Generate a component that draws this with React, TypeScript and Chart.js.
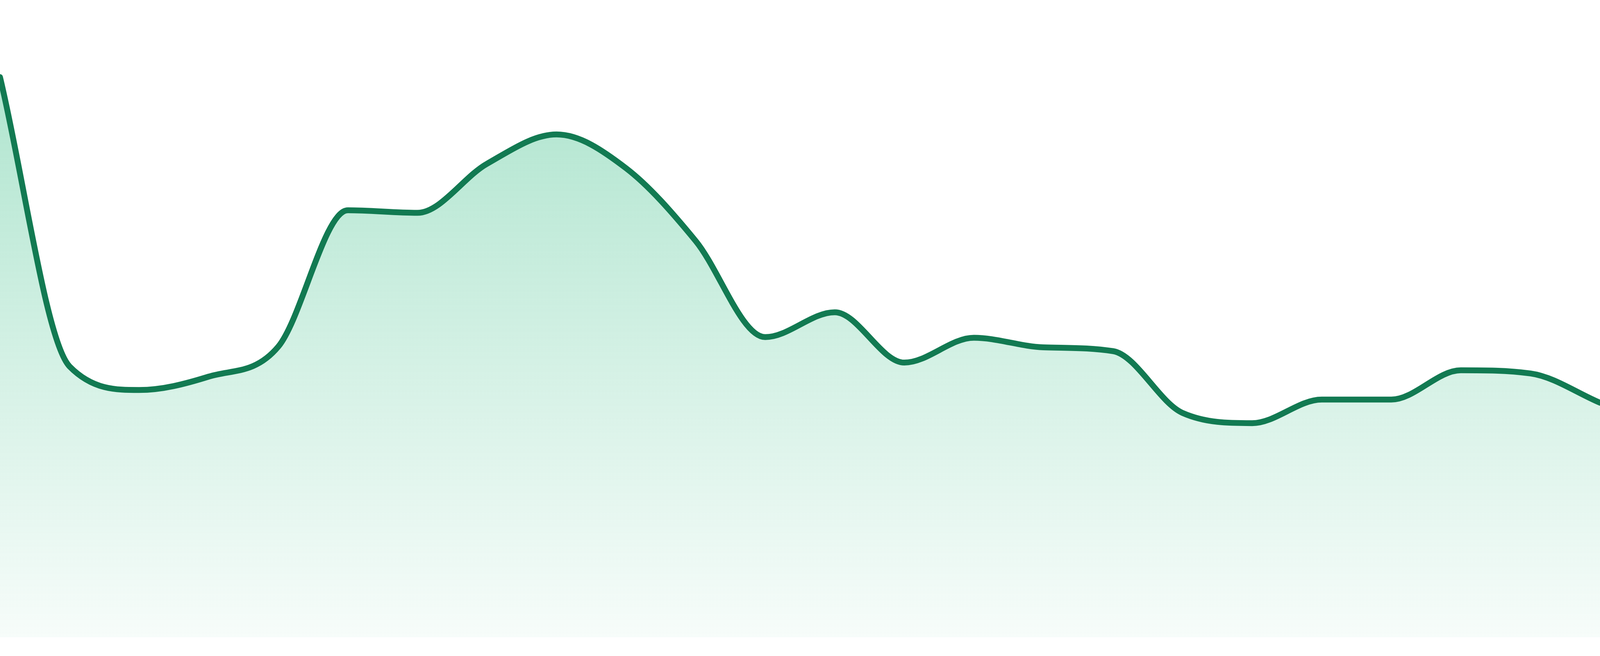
import React, { useEffect, useRef } from 'react';
import { Chart, registerables } from 'chart.js';

Chart.register(...registerables);

const hours = [
    '00:00', '01:00', '02:00', '03:00', '04:00', '05:00', '06:00', '07:00',
    '08:00', '09:00', '10:00', '11:00', '12:00', '13:00', '14:00', '15:00',
    '16:00', '17:00', '18:00', '19:00', '20:00', '21:00', '22:00', '23:00',
];

const values = [
    87.9, 42.5, 38.8, 40.9, 45.6, 67.0, 66.6, 74.3,
    78.9, 73.6, 62.2, 47.1, 51.0, 43.1, 47.0, 45.5,
    44.9, 35.2, 33.6, 37.3, 37.3, 41.9, 41.4, 36.8,
];

const yRange = [0, 100];

const App = () => {
    const chartContainer = useRef<HTMLCanvasElement>(null);

    useEffect(() => {
        let myChart: Chart<'line', number[], string> | null = null;

        if (chartContainer.current) {
            const ctx = chartContainer.current.getContext('2d');

            if (ctx) {
                myChart = new Chart(ctx, {
                    type: 'line',
                    data: {
                        labels: hours,
                        datasets: [{
                            data: values,
                            borderColor: '#127a52',
                            borderWidth: 15,
                            borderJoinStyle: 'round',
                            borderCapStyle: 'round',
                            pointRadius: 0,
                            pointHoverRadius: 0,
                            cubicInterpolationMode: 'monotone',
                            fill: 'start',
                            backgroundColor: (context: any) => {
                                const area = context.chart.chartArea;
                                if (!area) return 'rgba(40, 184, 124, 0.2)';
                                // fades from mint at the top to almost white at the bottom
                                const g = context.chart.ctx.createLinearGradient(0, area.top, 0, area.bottom);
                                g.addColorStop(0, 'rgba(40, 184, 124, 0.41)');
                                g.addColorStop(1, 'rgba(40, 184, 124, 0.04)');
                                return g;
                            },
                        }]
                    },
                    options: {
                        animation: false,
                        responsive: true,
                        maintainAspectRatio: false,
                        layout: {
                            padding: { top: 0, left: 0, right: 0, bottom: 48 }
                        },
                        plugins: {
                            legend: { display: false },
                            tooltip: { enabled: false }
                        },
                        scales: {
                            x: { display: false },
                            y: { display: false, min: yRange[0], max: yRange[1] }
                        }
                    }
                });
            }
        }

        return () => {
            if (myChart && typeof myChart.destroy === 'function') {
                myChart.destroy();
            }
        };
    }, []);

    return (
        <div style={{ position: 'fixed', left: 0, top: 0, width: '100vw', height: '100vh', background: '#ffffff' }}>
            <canvas ref={chartContainer}></canvas>
        </div>
    );
};

export default App;
